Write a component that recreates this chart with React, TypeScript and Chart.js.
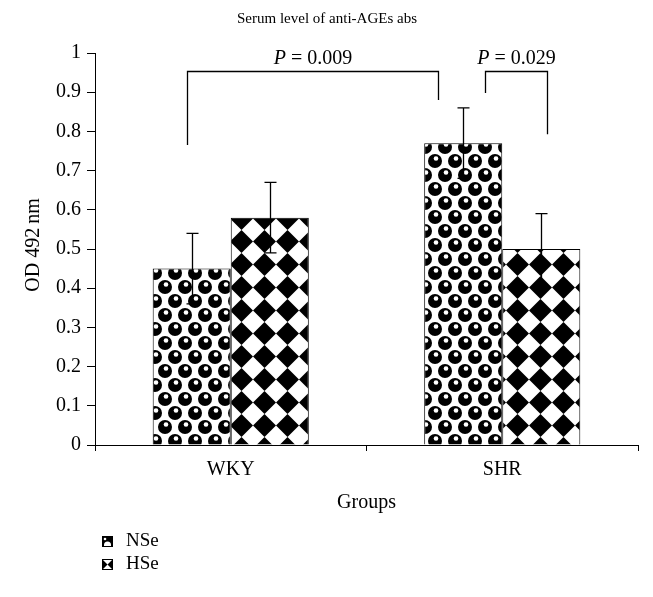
import React, { useEffect, useRef } from "react";
import { Chart, registerables } from "chart.js";

Chart.register(...registerables);

const categories = ["WKY", "SHR"];
const nseValues = [0.45, 0.77];
const hseValues = [0.58, 0.5];
const nseErrors = [0.09, 0.09];
const hseErrors = [0.09, 0.09];
const seriesNames = ["NSe", "HSe"];
const titleText = "Serum level of anti-AGEs abs";
const yTitle = "OD 492\u2009nm";
const xTitle = "Groups";
// significance brackets in data units (x: category index, y: value)
const bracketX1 = [-0.161, 0.936];
const bracketX2 = [0.763, 1.165];
const bracketTop = [0.954, 0.954];
const bracketLeftEnd = [0.765, 0.898];
const bracketRightEnd = [0.88, 0.793];
const bracketP = ["0.009", "0.029"];

const FONT = "'Liberation Serif', 'DejaVu Serif', serif";

function makeSpherePattern(ctx: CanvasRenderingContext2D) {
  const c = document.createElement("canvas");
  c.width = 20;
  c.height = 28;
  const g = c.getContext("2d")!;
  g.fillStyle = "#fff";
  g.fillRect(0, 0, 20, 28);
  const centers = [
    [5, 7],
    [15, 21],
    [-5, 21],
    [25, 7],
    [5, 35],
    [15, -7],
    [25, 35],
    [-5, -7],
  ];
  for (const [x, y] of centers) {
    g.fillStyle = "#000";
    g.beginPath();
    g.arc(x, y, 7, 0, Math.PI * 2);
    g.fill();
    g.fillStyle = "#fff";
    g.beginPath();
    g.arc(x + 1, y - 2.5, 2.3, 0, Math.PI * 2);
    g.fill();
  }
  return ctx.createPattern(c, "repeat")!;
}

function makeDiamondPattern(ctx: CanvasRenderingContext2D) {
  const s = 23;
  const c = document.createElement("canvas");
  c.width = s;
  c.height = s;
  const g = c.getContext("2d")!;
  g.fillStyle = "#fff";
  g.fillRect(0, 0, s, s);
  g.fillStyle = "#000";
  g.beginPath();
  g.moveTo(s / 2, 0);
  g.lineTo(s, s / 2);
  g.lineTo(s / 2, s);
  g.lineTo(0, s / 2);
  g.closePath();
  g.fill();
  return ctx.createPattern(c, "repeat")!;
}

const overlayPlugin = {
  id: "overlay",
  afterDatasetsDraw(chart: any) {
    const ctx: CanvasRenderingContext2D = chart.ctx;
    const xs = chart.scales.x;
    const ys = chart.scales.y;
    const area = chart.chartArea;
    ctx.save();
    // error bars
    const errs = [nseErrors, hseErrors];
    const vals = [nseValues, hseValues];
    ctx.strokeStyle = "#000";
    ctx.lineWidth = 1.3;
    chart.data.datasets.forEach((_d: any, di: number) => {
      const meta = chart.getDatasetMeta(di);
      meta.data.forEach((bar: any, i: number) => {
        const v = vals[di][i];
        const e = errs[di][i];
        const x = Math.round(bar.x) + 0.5;
        const yHi = ys.getPixelForValue(v + e);
        const yLo = ys.getPixelForValue(v - e);
        ctx.beginPath();
        ctx.moveTo(x, yHi);
        ctx.lineTo(x, yLo);
        ctx.moveTo(x - 6, yHi);
        ctx.lineTo(x + 6, yHi);
        ctx.moveTo(x - 6, yLo);
        ctx.lineTo(x + 6, yLo);
        ctx.stroke();
      });
    });
    // brackets
    ctx.lineWidth = 1.3;
    for (let i = 0; i < bracketX1.length; i++) {
      const x1 = Math.round(xs.getPixelForValue(bracketX1[i])) + 0.5;
      const x2 = Math.round(xs.getPixelForValue(bracketX2[i])) + 0.5;
      const yt = Math.round(ys.getPixelForValue(bracketTop[i])) + 0.5;
      ctx.beginPath();
      ctx.moveTo(x1, ys.getPixelForValue(bracketLeftEnd[i]));
      ctx.lineTo(x1, yt);
      ctx.lineTo(x2, yt);
      ctx.lineTo(x2, ys.getPixelForValue(bracketRightEnd[i]));
      ctx.stroke();
      // label
      const cx = (x1 + x2) / 2;
      ctx.fillStyle = "#000";
      ctx.textBaseline = "alphabetic";
      ctx.textAlign = "left";
      ctx.font = `italic 20px ${FONT}`;
      const pW = ctx.measureText("P").width;
      ctx.font = `20px ${FONT}`;
      const rest = " = " + bracketP[i];
      const rW = ctx.measureText(rest).width;
      const start = cx - (pW + rW) / 2;
      ctx.font = `italic 20px ${FONT}`;
      ctx.fillText("P", start, yt - 8);
      ctx.font = `20px ${FONT}`;
      ctx.fillText(rest, start + pW, yt - 8);
    }
    // title
    ctx.textAlign = "center";
    ctx.textBaseline = "middle";
    ctx.font = `15px ${FONT}`;
    ctx.fillText(titleText, 327, 19);
    // x title
    ctx.font = `20px ${FONT}`;
    ctx.fillText(xTitle, (area.left + area.right) / 2, 503);
    // y title
    ctx.save();
    ctx.translate(34, (area.top + area.bottom) / 2 - 4);
    ctx.rotate(-Math.PI / 2);
    ctx.fillText(yTitle, 0, 0);
    ctx.restore();
    // legend
    const ly = [541, 564];
    for (let i = 0; i < 2; i++) {
      const x0 = 102;
      const y0 = ly[i] - 5;
      ctx.fillStyle = "#fff";
      ctx.fillRect(x0, y0, 11, 11);
      ctx.fillStyle = "#000";
      if (i === 0) {
        ctx.fillRect(x0, y0, 11, 11);
        ctx.fillStyle = "#fff";
        ctx.beginPath();
        ctx.arc(x0 + 5.5, y0 + 9, 3.5, Math.PI, 0);
        ctx.fill();
        ctx.fillRect(x0 + 2, y0 + 9, 7, 2);
        ctx.beginPath();
        ctx.arc(x0 + 3, y0 + 3, 1.3, 0, Math.PI * 2);
        ctx.fill();
      } else {
        ctx.beginPath();
        ctx.moveTo(x0, y0);
        ctx.lineTo(x0 + 5.5, y0 + 5.5);
        ctx.lineTo(x0, y0 + 11);
        ctx.closePath();
        ctx.moveTo(x0 + 11, y0);
        ctx.lineTo(x0 + 5.5, y0 + 5.5);
        ctx.lineTo(x0 + 11, y0 + 11);
        ctx.closePath();
        ctx.fill();
      }
      ctx.strokeStyle = "#000";
      ctx.lineWidth = 1;
      ctx.strokeRect(x0 + 0.5, y0 + 0.5, 10, 10);
      ctx.fillStyle = "#000";
      ctx.textAlign = "left";
      ctx.textBaseline = "middle";
      ctx.font = `19px ${FONT}`;
      ctx.fillText(seriesNames[i], 126, ly[i]);
    }
    ctx.restore();
  },
};

export default function App() {
  const ref = useRef<HTMLCanvasElement | null>(null);
  useEffect(() => {
    const canvas = ref.current!;
    const ctx = canvas.getContext("2d")!;
    const nsePat = makeSpherePattern(ctx);
    const hsePat = makeDiamondPattern(ctx);
    const chart = new Chart(canvas, {
      type: "bar",
      data: {
        labels: categories,
        datasets: [
          {
            label: seriesNames[0],
            data: nseValues,
            backgroundColor: nsePat as any,
            borderColor: "#000",
            borderWidth: 1,
            categoryPercentage: 0.575,
            barPercentage: 1,
          },
          {
            label: seriesNames[1],
            data: hseValues,
            backgroundColor: hsePat as any,
            borderColor: "#000",
            borderWidth: 1,
            categoryPercentage: 0.575,
            barPercentage: 1,
          },
        ],
      },
      options: {
        responsive: false,
        animation: false,
        devicePixelRatio: 1,
        layout: { padding: { top: 53, right: 15, left: 0, bottom: 0 } },
        plugins: {
          legend: { display: false },
          title: { display: false },
          tooltip: { enabled: false },
        },
        scales: {
          x: {
            offset: true,
            grid: {
              offset: true,
              drawOnChartArea: false,
              drawTicks: true,
              tickLength: 6,
              color: "#000",
            },
            border: { color: "#000", width: 1 },
            ticks: {
              color: "#000",
              padding: 7,
              font: { family: FONT, size: 20 },
            },
            afterFit: (scale: any) => {
              scale.height = 152;
            },
          },
          y: {
            min: 0,
            max: 1,
            ticks: {
              stepSize: 0.1,
              color: "#000",
              padding: 6,
              font: { family: FONT, size: 20 },
              callback: (v: any) => String(Number(Number(v).toFixed(1))),
            },
            grid: {
              drawOnChartArea: false,
              tickLength: 8,
              color: "#000",
            },
            border: { color: "#000", width: 1 },
            afterFit: (scale: any) => {
              scale.width = 95;
            },
          },
        },
      },
      plugins: [overlayPlugin],
    });
    return () => chart.destroy();
  }, []);
  return (
    <div style={{ position: "fixed", left: 0, top: 0, width: 653, height: 597, background: "#fff" }}>
      <canvas ref={ref} width={653} height={597} />
    </div>
  );
}
